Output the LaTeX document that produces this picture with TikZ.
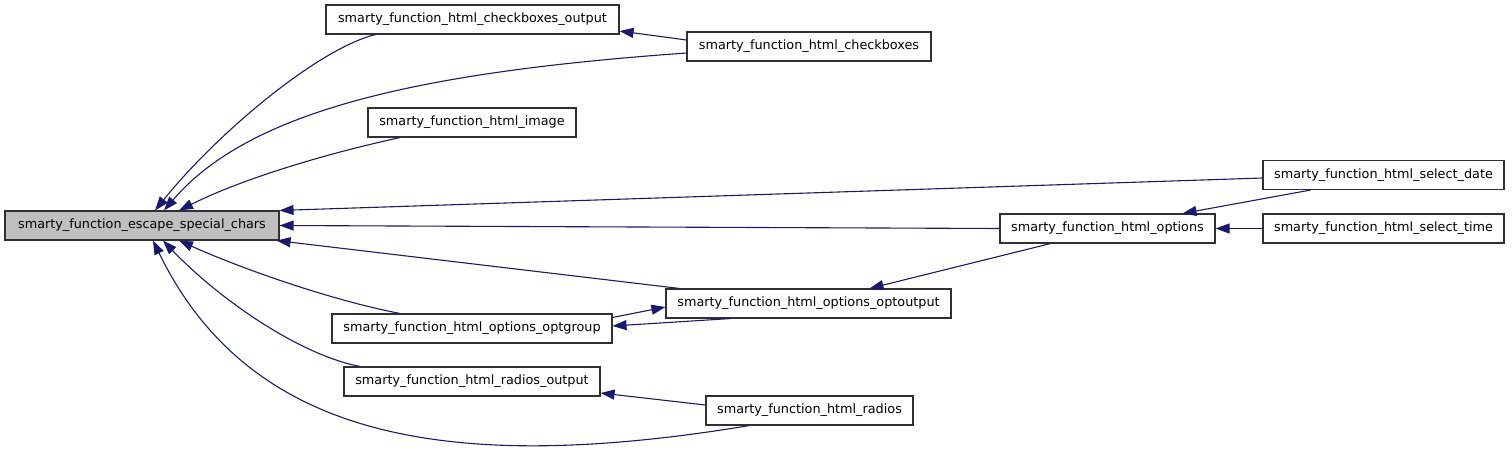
\documentclass[tikz,border=0pt]{standalone}
\usepackage{fontspec}
\setmainfont{DejaVu Sans}
\usepackage{tikz}
\usetikzlibrary{arrows.meta}
\definecolor{edgeblue}{HTML}{191970}
\definecolor{boxline}{HTML}{303030}
\definecolor{rootfill}{HTML}{BFBFBF}

\begin{document}
\begin{tikzpicture}[x=1pt,y=-1pt,every node/.style={font=\fontsize{12.8}{15}\selectfont},fbox/.style={draw=boxline,fill=white,inner sep=0pt,minimum height=29pt,line width=1.1pt},arr/.style={-{Triangle[length=14pt,width=10pt]},line width=1.1pt,draw=edgeblue}]
\useasboundingbox (0,0) rectangle (1512,451);
\node[fbox,fill=rootfill,minimum width=274pt] (esc) at (142,225.5) {smarty\_function\_escape\_special\_chars};
\node[fbox,minimum width=293pt] (cbout) at (472.5,19.5) {smarty\_function\_html\_checkboxes\_output};
\node[fbox,minimum width=244pt] (cbox) at (809,46.5) {smarty\_function\_html\_checkboxes};
\node[fbox,minimum width=208pt] (img) at (472,122.5) {smarty\_function\_html\_image};
\node[fbox,minimum width=241pt] (sdate) at (1383.5,175) {smarty\_function\_html\_select\_date};
\node[fbox,minimum width=215pt] (opts) at (1107.5,228.5) {smarty\_function\_html\_options};
\node[fbox,minimum width=241pt] (stime) at (1383.5,228.5) {smarty\_function\_html\_select\_time};
\node[fbox,minimum width=285pt] (optout) at (808.5,303.5) {smarty\_function\_html\_options\_optoutput};
\node[fbox,minimum width=280pt] (optgrp) at (472,328.5) {smarty\_function\_html\_options\_optgroup};
\node[fbox,minimum width=256pt] (radout) at (472,381.5) {smarty\_function\_html\_radios\_output};
\node[fbox,minimum width=207pt] (rad) at (809.5,410.5) {smarty\_function\_html\_radios};
% callers of escape_special_chars
\draw[arr] ([xshift=-97pt]cbout.south) .. controls (320,48) and (220,130) .. ([xshift=13pt]esc.north);
\draw[arr] ([yshift=-6.5pt]cbox.west) .. controls (420,72) and (250,110) .. ([xshift=22pt]esc.north);
\draw[arr] ([xshift=-72pt]img.south) .. controls (320,155) and (240,180) .. ([xshift=37pt]esc.north);
\draw[arr] ([yshift=-3pt]sdate.west) -- (esc.north east);
\draw[arr] (opts.west) -- (esc.east);
\draw[arr] ([xshift=14pt]optout.north west) -- ([xshift=-3pt]esc.south east);
\draw[arr] ([xshift=-72pt]optgrp.north) .. controls (330,300) and (240,268) .. ([xshift=37pt]esc.south);
\draw[arr] ([xshift=-112pt]radout.north) .. controls (300,355) and (220,300) .. ([xshift=21pt]esc.south);
\draw[arr] ([xshift=-60pt]rad.south) .. controls (450,475) and (250,440) .. ([xshift=11pt]esc.south);
% other calls
\draw[arr] ([yshift=6.5pt]cbox.west) -- ([yshift=-11.5pt]cbout.east);\draw[arr] ([xshift=-73pt]sdate.south) -- ([xshift=75pt]opts.north);\draw[arr] (stime.west) -- (opts.east);
\draw[arr] ([xshift=-57pt]opts.south) -- ([xshift=61pt]optout.north);\draw[arr] ([yshift=-4pt]optgrp.north east) -- ([yshift=-3.5pt]optout.west);\draw[arr] ([xshift=-78pt]optout.south) -- ([yshift=2.5pt]optgrp.east);
\draw[arr] ([yshift=5.5pt]rad.west) -- ([yshift=-11.5pt]radout.east);
\end{tikzpicture}
\end{document}
